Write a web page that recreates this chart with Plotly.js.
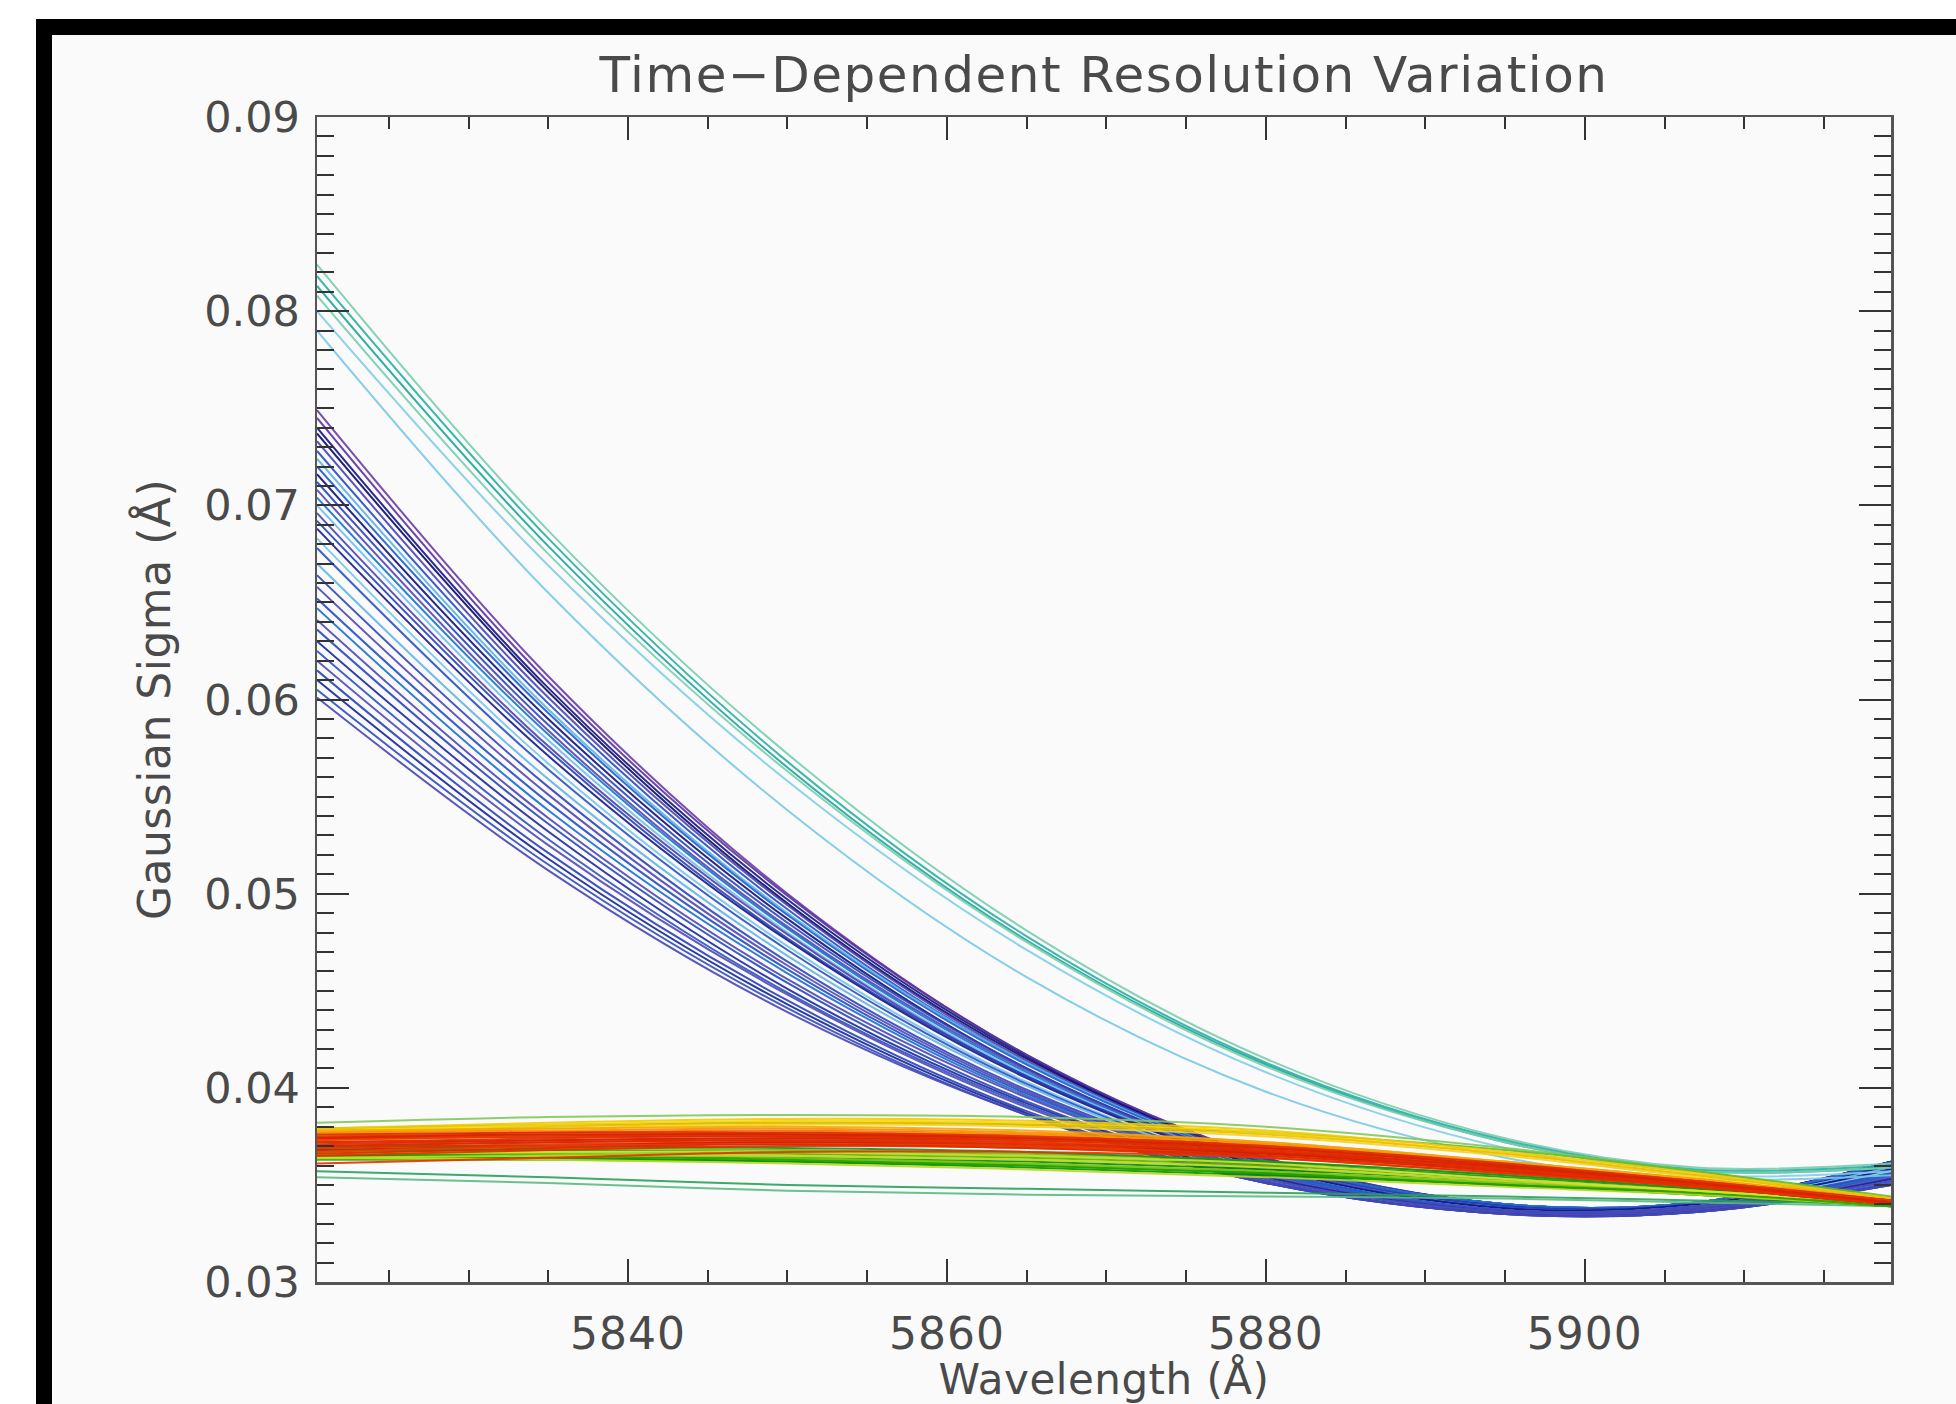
<!DOCTYPE html>
<html><head><meta charset="utf-8">
<script src="https://cdn.plot.ly/plotly-3.0.1.min.js"></script>
<style>
html,body{margin:0;padding:0;background:#fff;width:1956px;height:1404px;overflow:hidden;}
#frame{position:absolute;left:36px;top:19px;width:1920px;height:1385px;background:#000;}
#chart{position:absolute;left:52px;top:35px;width:1904px;height:1369px;}
#chart .gtitle{letter-spacing:1.5px;}
#chart .xtick text{letter-spacing:1px;}
#chart .xtitle, #chart .ytitle{letter-spacing:0.5px;}
</style></head><body>
<div id="frame"></div><div id="chart"></div>
<script>
const wavelengths = [5820.5, 5835, 5850, 5865, 5880, 5895, 5907, 5919.2];

const blueCurves = [
 [0.0749, 0.0612, 0.0500, 0.0417, 0.0364, 0.0340, 0.0341, 0.0362],
 [0.0745, 0.0609, 0.0499, 0.0417, 0.0364, 0.0340, 0.0341, 0.0362],
 [0.0740, 0.0606, 0.0497, 0.0416, 0.0363, 0.0340, 0.0341, 0.0362],
 [0.0737, 0.0604, 0.0495, 0.0415, 0.0363, 0.0340, 0.0341, 0.0362],
 [0.0733, 0.0601, 0.0494, 0.0414, 0.0363, 0.0340, 0.0341, 0.0362],
 [0.0728, 0.0598, 0.0492, 0.0413, 0.0363, 0.0340, 0.0341, 0.0361],
 [0.0724, 0.0595, 0.0490, 0.0413, 0.0362, 0.0340, 0.0341, 0.0361],
 [0.0720, 0.0593, 0.0489, 0.0412, 0.0362, 0.0340, 0.0341, 0.0361],
 [0.0716, 0.0590, 0.0487, 0.0410, 0.0361, 0.0339, 0.0340, 0.0360],
 [0.0712, 0.0587, 0.0485, 0.0410, 0.0361, 0.0339, 0.0340, 0.0359],
 [0.0708, 0.0584, 0.0483, 0.0409, 0.0360, 0.0338, 0.0340, 0.0359],
 [0.0704, 0.0582, 0.0482, 0.0408, 0.0360, 0.0338, 0.0340, 0.0359],
 [0.0700, 0.0579, 0.0480, 0.0407, 0.0360, 0.0338, 0.0340, 0.0359],
 [0.0696, 0.0576, 0.0479, 0.0406, 0.0360, 0.0338, 0.0340, 0.0358],
 [0.0692, 0.0574, 0.0477, 0.0406, 0.0359, 0.0338, 0.0340, 0.0358],
 [0.0688, 0.0571, 0.0476, 0.0405, 0.0359, 0.0338, 0.0340, 0.0358],
 [0.0683, 0.0567, 0.0473, 0.0403, 0.0358, 0.0337, 0.0339, 0.0357],
 [0.0678, 0.0564, 0.0471, 0.0402, 0.0358, 0.0337, 0.0339, 0.0356],
 [0.0670, 0.0559, 0.0468, 0.0401, 0.0357, 0.0337, 0.0339, 0.0356],
 [0.0664, 0.0555, 0.0465, 0.0399, 0.0357, 0.0337, 0.0339, 0.0356],
 [0.0658, 0.0551, 0.0463, 0.0398, 0.0356, 0.0337, 0.0339, 0.0355],
 [0.0652, 0.0547, 0.0461, 0.0397, 0.0356, 0.0337, 0.0338, 0.0355],
 [0.0647, 0.0543, 0.0459, 0.0396, 0.0356, 0.0337, 0.0338, 0.0355],
 [0.0641, 0.0539, 0.0456, 0.0395, 0.0355, 0.0337, 0.0338, 0.0354],
 [0.0636, 0.0536, 0.0454, 0.0393, 0.0354, 0.0336, 0.0337, 0.0353],
 [0.0630, 0.0532, 0.0451, 0.0392, 0.0354, 0.0336, 0.0337, 0.0353],
 [0.0625, 0.0528, 0.0449, 0.0391, 0.0353, 0.0336, 0.0337, 0.0352],
 [0.0620, 0.0525, 0.0448, 0.0390, 0.0353, 0.0336, 0.0337, 0.0352],
 [0.0615, 0.0521, 0.0445, 0.0388, 0.0352, 0.0335, 0.0336, 0.0351],
 [0.0610, 0.0518, 0.0443, 0.0387, 0.0351, 0.0335, 0.0336, 0.0350],
 [0.0605, 0.0515, 0.0441, 0.0386, 0.0351, 0.0335, 0.0336, 0.0350],
 [0.0601, 0.0512, 0.0439, 0.0386, 0.0351, 0.0335, 0.0336, 0.0350]
];
const blueColors = [
 'rgb(105,60,165)','rgb(90,50,160)','rgb(20,20,130)','rgb(10,10,110)','rgb(75,65,175)',
 'rgb(35,75,195)','rgb(95,175,230)','rgb(25,95,205)','rgb(15,15,120)','rgb(40,70,190)',
 'rgb(85,70,175)','rgb(20,115,210)','rgb(110,190,235)','rgb(75,65,175)','rgb(35,65,185)',
 'rgb(20,25,135)','rgb(120,195,235)','rgb(40,80,195)','rgb(100,180,230)','rgb(45,70,185)',
 'rgb(80,70,180)','rgb(35,75,195)','rgb(25,110,205)','rgb(75,70,180)','rgb(40,70,190)',
 'rgb(25,40,160)','rgb(45,80,195)','rgb(80,75,180)','rgb(40,65,185)','rgb(20,35,150)',
 'rgb(45,75,190)','rgb(70,70,180)'
];

const tealCurves = [
 [0.0824, 0.0687, 0.0572, 0.0481, 0.0415, 0.0374, 0.0359, 0.0361],
 [0.0818, 0.0683, 0.0568, 0.0478, 0.0413, 0.0373, 0.0358, 0.0360],
 [0.0813, 0.0679, 0.0565, 0.0476, 0.0412, 0.0372, 0.0357, 0.0359],
 [0.0808, 0.0675, 0.0563, 0.0475, 0.0411, 0.0372, 0.0357, 0.0359],
 [0.0800, 0.0669, 0.0558, 0.0471, 0.0408, 0.0369, 0.0355, 0.0357],
 [0.0790, 0.0655, 0.0543, 0.0457, 0.0398, 0.0364, 0.0353, 0.0355]
];
const tealColors = ['rgb(120,205,175)','rgb(40,175,160)','rgb(30,165,155)','rgb(120,205,175)','rgb(130,205,230)','rgb(120,200,230)'];

const greenCurves = [
 [0.0357, 0.0354, 0.0350, 0.0348, 0.0346, 0.0344, 0.0342, 0.0340],
 [0.0354, 0.0351, 0.0347, 0.0345, 0.0344, 0.0343, 0.0341, 0.0339],
 [0.0368, 0.0368, 0.0367, 0.0365, 0.0361, 0.0354, 0.0348, 0.0340],
 [0.0367, 0.0367, 0.0366, 0.0364, 0.0360, 0.0353, 0.0347, 0.0340],
 [0.0366, 0.0366, 0.0365, 0.0363, 0.0359, 0.0352, 0.0347, 0.0340],
 [0.0365, 0.0365, 0.0364, 0.0362, 0.0358, 0.0352, 0.0346, 0.0339],
 [0.0364, 0.0364, 0.0363, 0.0361, 0.0357, 0.0351, 0.0346, 0.0339],
 [0.0363, 0.0363, 0.0362, 0.0360, 0.0356, 0.0350, 0.0345, 0.0339],
 [0.0367, 0.0366, 0.0364, 0.0361, 0.0357, 0.0351, 0.0346, 0.0339],
 [0.0365, 0.0364, 0.0362, 0.0359, 0.0355, 0.0350, 0.0345, 0.0339],
 [0.0364, 0.0363, 0.0361, 0.0358, 0.0354, 0.0349, 0.0345, 0.0339],
 [0.0366, 0.0365, 0.0363, 0.0360, 0.0356, 0.0350, 0.0346, 0.0339],
 [0.0369, 0.0369, 0.0368, 0.0366, 0.0362, 0.0355, 0.0348, 0.0340],
 [0.0370, 0.0370, 0.0369, 0.0367, 0.0362, 0.0355, 0.0348, 0.0340],
 [0.0382, 0.0385, 0.0386, 0.0385, 0.0380, 0.0369, 0.0357, 0.0343],
 [0.0379, 0.0381, 0.0382, 0.0381, 0.0377, 0.0368, 0.0357, 0.0344]
];
const greenColors = [
 'rgb(40,160,90)','rgb(90,185,130)',
 'rgb(20,150,20)','rgb(90,180,0)','rgb(140,200,10)','rgb(0,140,30)','rgb(170,210,0)',
 'rgb(60,165,10)','rgb(120,195,20)','rgb(0,150,0)','rgb(185,215,30)','rgb(40,160,0)',
 'rgb(110,190,0)','rgb(20,145,20)','rgb(130,200,90)','rgb(100,190,40)'
];

const yellowCurves = [
 [0.0379, 0.0382, 0.0384, 0.0383, 0.0378, 0.0367, 0.0356, 0.0343],
 [0.0378, 0.0381, 0.0383, 0.0382, 0.0377, 0.0366, 0.0355, 0.0343],
 [0.0377, 0.0380, 0.0382, 0.0381, 0.0376, 0.0366, 0.0355, 0.0343],
 [0.0376, 0.0379, 0.0381, 0.0380, 0.0375, 0.0365, 0.0354, 0.0342],
 [0.0364, 0.0365, 0.0365, 0.0363, 0.0359, 0.0352, 0.0347, 0.0341],
 [0.0366, 0.0367, 0.0367, 0.0365, 0.0361, 0.0353, 0.0347, 0.0341],
 [0.0377, 0.0378, 0.0379, 0.0377, 0.0372, 0.0362, 0.0353, 0.0342],
 [0.0378, 0.0379, 0.0380, 0.0378, 0.0372, 0.0362, 0.0353, 0.0342],
 [0.0375, 0.0377, 0.0378, 0.0376, 0.0371, 0.0361, 0.0352, 0.0342],
 [0.0373, 0.0375, 0.0377, 0.0376, 0.0371, 0.0361, 0.0352, 0.0342]
];
const yellowColors = [
 'rgb(245,200,0)','rgb(250,215,0)','rgb(235,190,0)','rgb(245,210,30)','rgb(200,220,40)','rgb(215,225,50)',
 'rgb(250,140,0)','rgb(245,165,0)','rgb(240,110,0)','rgb(250,150,0)'
];

const redCurves = [
 [0.0376, 0.0377, 0.0377, 0.0375, 0.0370, 0.0361, 0.0352, 0.0342],
 [0.0375, 0.0376, 0.0376, 0.0375, 0.0370, 0.0360, 0.0352, 0.0342],
 [0.0374, 0.0375, 0.0376, 0.0374, 0.0369, 0.0360, 0.0351, 0.0342],
 [0.0373, 0.0375, 0.0375, 0.0374, 0.0369, 0.0360, 0.0351, 0.0342],
 [0.0372, 0.0374, 0.0375, 0.0373, 0.0368, 0.0359, 0.0351, 0.0341],
 [0.0372, 0.0373, 0.0374, 0.0373, 0.0368, 0.0359, 0.0350, 0.0341],
 [0.0371, 0.0373, 0.0374, 0.0372, 0.0367, 0.0359, 0.0350, 0.0341],
 [0.0370, 0.0372, 0.0373, 0.0372, 0.0367, 0.0358, 0.0350, 0.0341],
 [0.0370, 0.0372, 0.0373, 0.0371, 0.0367, 0.0358, 0.0350, 0.0341],
 [0.0369, 0.0371, 0.0372, 0.0371, 0.0366, 0.0358, 0.0350, 0.0341],
 [0.0368, 0.0370, 0.0372, 0.0370, 0.0366, 0.0357, 0.0349, 0.0340],
 [0.0367, 0.0370, 0.0371, 0.0370, 0.0365, 0.0357, 0.0349, 0.0340],
 [0.0366, 0.0369, 0.0371, 0.0369, 0.0365, 0.0357, 0.0349, 0.0340],
 [0.0365, 0.0368, 0.0370, 0.0369, 0.0364, 0.0356, 0.0349, 0.0340],
 [0.0361, 0.0364, 0.0367, 0.0367, 0.0364, 0.0356, 0.0349, 0.0340],
 [0.0374, 0.0376, 0.0376, 0.0374, 0.0369, 0.0360, 0.0351, 0.0341]
];
const redColors = [
 'rgb(220,40,0)','rgb(230,50,0)','rgb(210,30,0)','rgb(235,60,0)','rgb(220,40,0)','rgb(225,45,0)',
 'rgb(215,35,0)','rgb(230,55,0)','rgb(220,40,0)','rgb(225,45,0)','rgb(210,30,0)','rgb(235,60,0)',
 'rgb(220,40,0)','rgb(225,45,0)','rgb(230,50,0)','rgb(215,35,0)'
];

const traces = [];
function addGroup(curves, colors){
  curves.forEach((c, i) => traces.push({
    x: wavelengths, y: c, type: 'scatter', mode: 'lines',
    line: {color: colors[i], width: 2, shape: 'spline', smoothing: 1},
    opacity: 0.9, hoverinfo: 'skip', showlegend: false
  }));
}
addGroup(blueCurves, blueColors);
addGroup(tealCurves, tealColors);
addGroup(greenCurves, greenColors);
addGroup(yellowCurves, yellowColors);
addGroup(redCurves, redColors);

const fam = 'DejaVu Sans, Liberation Sans, sans-serif';
const txt = '#4a4a4a';
const layout = {
  width: 1904, height: 1369,
  margin: {l: 265, r: 65, t: 82, b: 122, pad: 0},
  paper_bgcolor: '#fafafa', plot_bgcolor: '#fafafa',
  showlegend: false,
  title: {text: 'Time\u2212Dependent Resolution Variation', font: {family: fam, size: 50, color: txt},
          x: 0.5, xref: 'paper', xanchor: 'center', y: 0.971, yref: 'container', yanchor: 'middle'},
  xaxis: {
    range: [5820.5, 5919.2], tickmode: 'linear', tick0: 5840, dtick: 20,
    ticks: 'inside', ticklen: 23, tickwidth: 2, tickcolor: '#333',
    showline: true, linecolor: '#555', linewidth: 2.5, mirror: 'allticks',
    showgrid: false, zeroline: false,
    tickfont: {family: fam, size: 44, color: txt}, ticklabelstandoff: 12,
    minor: {tick0: 5820, dtick: 5, ticks: 'inside', ticklen: 12, tickwidth: 2, tickcolor: '#333', showgrid: false},
    title: {text: 'Wavelength (Å)', font: {family: fam, size: 42, color: txt}, standoff: 28}
  },
  yaxis: {
    range: [0.03, 0.09], tickmode: 'linear', tick0: 0.03, dtick: 0.01, tickformat: '.2f',
    ticks: 'inside', ticklen: 32, tickwidth: 2, tickcolor: '#333',
    showline: true, linecolor: '#555', linewidth: 2.5, mirror: 'allticks',
    showgrid: false, zeroline: false,
    tickfont: {family: fam, size: 43, color: txt}, ticklabelstandoff: 6,
    minor: {tick0: 0.03, dtick: 0.001, ticks: 'inside', ticklen: 17, tickwidth: 2, tickcolor: '#333', showgrid: false},
    title: {text: 'Gaussian Sigma (Å)', font: {family: fam, size: 44, color: txt}, standoff: 20}
  }
};
Plotly.newPlot('chart', traces, layout, {displayModeBar: false, staticPlot: true});
</script>
</body></html>
